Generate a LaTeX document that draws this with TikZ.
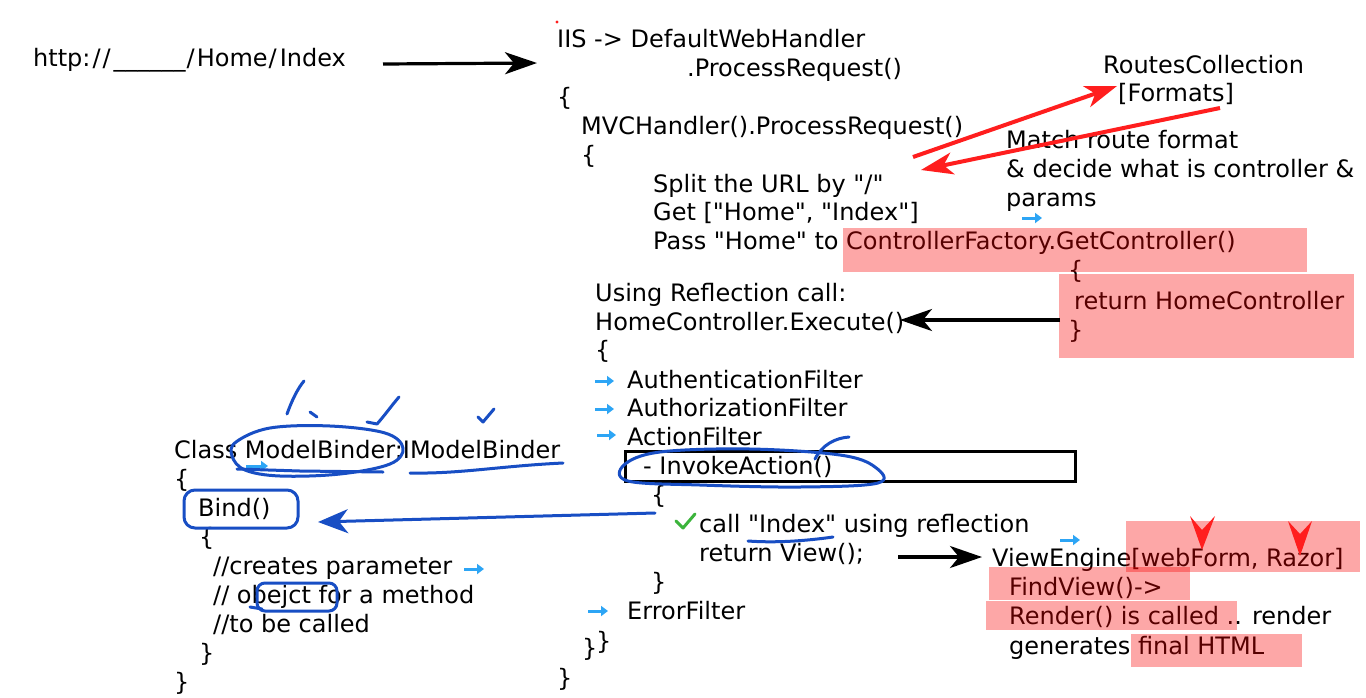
\documentclass[tikz,border=0pt]{standalone}
\usepackage{fontspec}
\setmainfont{DejaVu Sans}[Ligatures=TeXOff]
\usetikzlibrary{arrows.meta}
\definecolor{hblue}{RGB}{24,78,196}
\definecolor{lblue}{RGB}{45,165,245}
\definecolor{hred}{RGB}{255,30,30}
\definecolor{hl}{RGB}{250,0,0}
\definecolor{okgreen}{RGB}{60,180,60}
\begin{document}
\begin{tikzpicture}[x=1pt,y=-1pt,
  txt/.style={anchor=base west, inner sep=0pt, font=\fontsize{24}{28}\selectfont},
  hand/.style={draw=hblue, line width=3pt, line cap=round, line join=round},
  hilite/.style={fill=hl, fill opacity=0.345, draw=none},
  larrow/.style={draw=lblue, line width=3pt, -{Triangle[length=7pt,width=10pt]}},
  barrow/.style={draw=black, line width=3.2pt, -{Stealth[length=32pt,width=22pt,inset=9pt]}},
  rarrow/.style={draw=hred, line width=4pt, -{Stealth[length=32pt,width=22pt,inset=9pt]}},
]
\useasboundingbox (0,0) rectangle (1366,697);
\fill[white] (0,0) rectangle (1366,697);

% ---------- texts ----------
\node[txt] (url) at (33,66) {http:\kern2pt/\kern2pt/\kern3pt\_\_\_\_\_\_\kern1pt/\kern2pt Home\kern1pt/\kern3pt Index};
\node[txt] (iis) at (557,47) {IIS -> DefaultWebHandler};
\node[txt] (pr) at (687,76) {.ProcessRequest()};
\node[txt] (b1) at (557,105) {\{};
\node[txt] (mvc) at (581,134) {MVCHandler().ProcessRequest()};
\node[txt] (b2) at (581,163) {\{};
\node[txt] (split) at (653,192) {Split the URL by "/"};
\node[txt] (get) at (653,220) {Get ["Home", "Index"]};
\node[txt] (pass) at (653,249) {Pass "Home" to ControllerFactory.GetController()};
\node[txt] (cfo) at (1068,278) {\{};
\node[txt] (ret) at (1074,309) {return HomeController};
\node[txt] (cfc) at (1068,338) {\}};
\node[txt] (refl) at (595,301) {Using Reflection call:};
\node[txt] (exec) at (595,330) {HomeController.Execute()};
\node[txt] (b3) at (595,358) {\{};
\node[txt] (authn) at (627,388) {AuthenticationFilter};
\node[txt] (authz) at (627,416) {AuthorizationFilter};
\node[txt] (actf) at (627,445) {ActionFilter};
\node[txt] (inv) at (643,474) {- InvokeAction()};
\node[txt] (b4) at (651,503) {\{};
\node[txt] (call) at (699,532) {call "Index" using reflection};
\node[txt] (view) at (699,561) {return View();};
\node[txt] (b4c) at (651,590) {\}};
\node[txt] (errf) at (627,619) {ErrorFilter};
\node[txt] (b3c) at (582,656) {\}};
\node[txt] (b3d) at (596,649) {\}};
\node[txt] (b1c) at (557,686) {\}};

\node[txt] (routes) at (1103,73) {RoutesCollection};
\node[txt] (formats) at (1118,101) {[Formats]};
\node[txt] (match1) at (1006,148) {Match route format};
\node[txt] (match2) at (1006,177) {\& decide what is controller \&};
\node[txt] (match3) at (1006,206) {params};

\node[txt] (ve) at (992,566) {ViewEngine[webForm, Razor]};
\node[txt] (fv) at (1009,595) {FindView()->};
\node[txt] (rend) at (1009,624) {Render() is called .. render};
\node[txt] (gen) at (1009,654) {generates final HTML};

\node[txt] (cls) at (174,458) {Class ModelBinder:IModelBinder};
\node[txt] (cb) at (174,487) {\{};
\node[txt] (bind) at (198,516) {Bind()};
\node[txt] (bb) at (199,545) {\{};
\node[txt] (c1) at (213,574) {//creates parameter};
\node[txt] (c2) at (213,603) {// obejct for a method};
\node[txt] (c3) at (213,632) {//to be called};
\node[txt] (bbc) at (199,661) {\}};
\node[txt] (cbc) at (174,690) {\}};

% ---------- highlights ----------
\fill[hilite] (843,228) rectangle (1307,272);
\fill[hilite] (1059,274) rectangle (1354,358);
\fill[hilite] (1126,521) rectangle (1360,572);
\fill[hilite] (989,567) rectangle (1190,600);
\fill[hilite] (986,601) rectangle (1237,630);
\fill[hilite] (1131,634) rectangle (1302,667);

% ---------- black box ----------
\draw[line width=3pt] (625,451) rectangle (1075,481);

% ---------- connectors ----------
\coordinate (a1s) at (383,64);
\coordinate (a1e) at (537,63);
\draw[barrow] (a1s) -- (a1e);
\coordinate (a2s) at (1060,320);
\coordinate (a2e) at (900,320);
\draw[barrow] (a2s) -- (a2e);
\coordinate (a3s) at (898,557);
\coordinate (a3e) at (982,557);
\draw[barrow] (a3s) -- (a3e);

\coordinate (r1s) at (913,157);
\coordinate (r1e) at (1117,86);
\draw[rarrow] (r1s) -- (r1e);
\coordinate (r2s) at (1220,108);
\coordinate (r2e) at (921,170);
\draw[rarrow] (r2s) -- (r2e);

% red arrowheads on ViewEngine
\fill[hred] (1190,516) -- (1202,550) -- (1215,516) -- (1202,530) -- cycle;
\fill[hred] (1288,521) -- (1300,556) -- (1312,521) -- (1300,534) -- cycle;

% red dot
\fill[hred] (557,22) circle (1.6);

% light blue small arrows
\draw[larrow] (1022,218) -- (1042,218);
\draw[larrow] (1060,540) -- (1080,540);
\draw[larrow] (464,569) -- (484,569);
\draw[larrow] (246,466) -- (268,466);
\draw[larrow] (595,381) -- (614,381);
\draw[larrow] (595,409) -- (614,409);
\draw[larrow] (597,435) -- (616,435);
\draw[larrow] (588,611) -- (608,611);

% green check
\draw[draw=okgreen, line width=3pt, line cap=round, line join=round] (676,521) -- (683,528) -- (695,514);

% ---------- blue hand annotations ----------
\draw[hand] plot[smooth cycle, tension=0.6] coordinates {(236,442) (270,428) (330,426) (385,433) (403,448) (390,464) (340,474) (280,476) (245,470) (232,456)};
\draw[hand] (237,469) -- (300,471) -- (383,472);
\draw[hand] (410,473) .. controls (460,474) and (500,466) .. (563,463);
\draw[hand] (287,414) .. controls (292,400) and (298,388) .. (304,381);
\draw[hand] (310,412) -- (317,417);
\draw[hand] (367,422) -- (377,424) .. controls (385,415) and (392,405) .. (399,397);
\draw[hand] (478,417) -- (483,422) -- (494,409);
\draw[hand, rounded corners=11pt] (184,490) rectangle (298,528);
\coordinate (bas) at (655,513);
\coordinate (bae) at (318,522);
\draw[hand, -{Stealth[length=30pt,width=24pt,inset=9pt]}] (bas) -- (bae);
\draw[hand] plot[smooth cycle, tension=0.6] coordinates {(624,465) (660,452) (750,449) (840,455) (875,467) (878,483) (800,487) (700,485) (628,481)};
\draw[hand] (815,459) .. controls (822,445) and (835,438) .. (849,437);
\draw[hand] (748,541) .. controls (775,543) and (805,541) .. (833,537);
\draw[hand, rounded corners=8pt] (257,583) rectangle (337,611);
\draw[hand] (250,607) -- (262,609);
\end{tikzpicture}
\end{document}
